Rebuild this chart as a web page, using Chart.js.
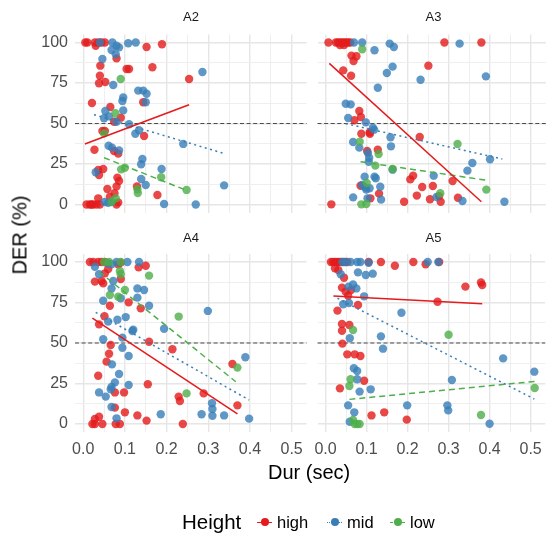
<!DOCTYPE html>
<html>
<head>
<meta charset="utf-8">
<script src="https://cdn.jsdelivr.net/npm/chart.js@4.4.1/dist/chart.umd.min.js"></script>
<style>
  html,body{margin:0;padding:0;background:#fff;}
  body{width:550px;height:534px;position:relative;overflow:hidden;font-family:"Liberation Sans",Arial,Helvetica,sans-serif;}
  canvas{position:absolute;left:0;top:0;}
  .strip{position:absolute;font-size:13px;color:#1A1A1A;text-align:center;width:232px;line-height:16px;}
  .axt{position:absolute;font-size:20px;color:#000;white-space:nowrap;line-height:24px;}
  #legend{position:absolute;top:508px;left:0;width:550px;height:28px;}
  .ltitle{position:absolute;left:182px;top:0;font-size:20.5px;line-height:28px;color:#000;}
  .litem{position:absolute;top:0;height:28px;display:flex;align-items:center;font-size:16.5px;color:#000;}
  .key{position:relative;width:17px;height:17px;margin-right:4px;}
  .key .ln{position:absolute;left:1px;right:1px;top:8px;border-top-width:1px;}
  .key .dt{position:absolute;left:4.5px;top:4.5px;width:8px;height:8px;border-radius:50%;}
</style>
</head>
<body>
<canvas id="cA2" width="550" height="534"></canvas>
<canvas id="cA3" width="550" height="534"></canvas>
<canvas id="cA4" width="550" height="534"></canvas>
<canvas id="cA5" width="550" height="534"></canvas>

<div class="strip" style="left:75px;top:9px;">A2</div>
<div class="strip" style="left:317.5px;top:9px;">A3</div>
<div class="strip" style="left:75px;top:230px;">A4</div>
<div class="strip" style="left:317.5px;top:230px;">A5</div>

<div class="axt" style="left:268px;top:460px;">Dur (sec)</div>
<div class="axt" style="left:-20px;top:223px;transform:rotate(-90deg);">DER (%)</div>

<div id="legend">
  <div class="ltitle">Height</div>
  <div class="litem" style="left:256px;"><div class="key"><div class="ln" style="border-top-style:solid;border-top-color:#E41A1C;"></div><div class="dt" style="background:#E41A1C;"></div></div>high</div>
  <div class="litem" style="left:326px;"><div class="key"><div class="ln" style="border-top-style:dotted;border-top-color:#377EB8;"></div><div class="dt" style="background:#377EB8;"></div></div>mid</div>
  <div class="litem" style="left:389px;"><div class="key"><div class="ln" style="border-top-style:dashed;border-top-color:#4DAF4A;"></div><div class="dt" style="background:#4DAF4A;"></div></div>low</div>
</div>

<script>
// ---------- axes ----------
const xMin = -0.0197, xMax = 0.5357;
const yMin = -5, yMax = 105;
const xMajor = [0, 0.1, 0.2, 0.3, 0.4, 0.5];
const xMinor = [0.05, 0.15, 0.25, 0.35, 0.45];
const xLabels = ['0.0', '0.1', '0.2', '0.3', '0.4', '0.5'];
const yMajor = [0, 25, 50, 75, 100];
const yMinor = [12.5, 37.5, 62.5, 87.5];
const yLabels = ['0', '25', '50', '75', '100'];
const refY = 50;

// ---------- data: [Dur (sec), DER (%)] ----------
const A2_high = [[0.005,100],[0.01,100],[0.028,100],[0.036,100],[0.044,100],[0.052,100],[0.03,98],[0.152,97.2],[0.189,98.9],[0.08,90.2],[0.041,85.7],[0.166,84.7],[0.104,83.6],[0.11,83.6],[0.04,79.5],[0.254,77.5],[0.038,74.8],[0.053,75.6],[0.144,63.1],[0.021,62.7],[0.065,60.2],[0.09,53.6],[0.074,51.1],[0.046,45.4],[0.052,45.4],[0.146,42.3],[0.027,33.8],[0.074,33.0],[0.084,31.4],[0.048,21.9],[0.036,21.3],[0.038,18.2],[0.082,16.6],[0.086,14.5],[0.08,11.2],[0.129,11.2],[0.058,9.6],[0.178,5.9],[0.075,6.9],[0.064,4.8],[0.036,3.8],[0.008,0],[0.016,0],[0.02,0],[0.024,0],[0.032,0],[0.04,0],[0.084,1.3],[0.08,0]];
const A2_mid = [[0.04,100],[0.07,100],[0.08,98],[0.086,97],[0.108,99.5],[0.126,100],[0.068,95.4],[0.078,92.7],[0.046,89.8],[0.286,81.8],[0.072,73.8],[0.132,70.3],[0.144,70.3],[0.152,68.4],[0.096,66.1],[0.094,63.9],[0.15,63.1],[0.053,57.7],[0.096,58.1],[0.062,54.4],[0.05,53.2],[0.08,51.1],[0.11,49.5],[0.125,43.7],[0.134,45.8],[0.24,37.4],[0.061,36.3],[0.069,35.1],[0.086,33.4],[0.142,28.1],[0.139,24.8],[0.188,21.9],[0.03,19.9],[0.139,15.7],[0.15,12.0],[0.338,11.8],[0.052,1.5],[0.06,1],[0.068,1.5],[0.194,0.3],[0.27,0]];
const A2_low = [[0.09,77.5],[0.077,56.3],[0.05,43.9],[0.091,21.7],[0.1,22.7],[0.187,16.8],[0.13,9.4],[0.131,7.1],[0.248,9.0],[0.068,1.7],[0.078,3.8]];

const A3_high = [[0.007,100],[0.025,100],[0.03,100],[0.035,100],[0.04,100],[0.045,100],[0.05,100],[0.055,100],[0.06,100],[0.035,98.5],[0.045,98.5],[0.289,100],[0.379,100],[0.063,91.9],[0.075,91.5],[0.068,88.6],[0.043,82.8],[0.062,79.5],[0.25,85.7],[0.082,57.7],[0.086,54],[0.07,52],[0.087,43.7],[0.107,44.5],[0.108,43.7],[0.229,41.7],[0.101,33],[0.127,33.8],[0.213,17.8],[0.206,15.5],[0.309,14.5],[0.261,11.4],[0.235,10.8],[0.085,11.6],[0.13,6.7],[0.222,5.5],[0.276,5.2],[0.254,3.2],[0.322,4.2],[0.28,1.7],[0.191,1.7],[0.109,3.8],[0.014,0.1]];
const A3_mid = [[0.069,100],[0.089,100],[0.119,95.2],[0.156,99.3],[0.166,97.2],[0.326,99.3],[0.163,85.1],[0.149,81.2],[0.231,77],[0.39,79.1],[0.127,72.1],[0.049,62.2],[0.061,61.8],[0.055,53.4],[0.098,50.7],[0.115,47.4],[0.118,46.2],[0.158,41.5],[0.159,35.9],[0.067,38.6],[0.082,35.1],[0.103,31.8],[0.106,28.9],[0.105,26.4],[0.4,27.9],[0.357,25.6],[0.345,20.9],[0.163,21.5],[0.095,17.2],[0.119,17.2],[0.122,16.2],[0.263,17.8],[0.133,11],[0.089,12],[0.097,10.4],[0.107,10],[0.099,9.2],[0.27,4.6],[0.333,2.2],[0.067,4.4],[0.102,3.8],[0.135,3],[0.435,1.7]];
const A3_low = [[0.089,95.8],[0.083,38.8],[0.321,37.4],[0.129,31.2],[0.121,24],[0.163,21.9],[0.1,13.3],[0.391,9.2],[0.279,6.9],[0.087,0.1],[0.099,0.3]];

const A4_high = [[0.016,100],[0.024,100],[0.036,100],[0.044,100],[0.052,100],[0.084,98.6],[0.09,99.6],[0.133,96.7],[0.15,97.7],[0.052,93],[0.06,95.7],[0.028,87.9],[0.044,88.3],[0.048,86.8],[0.09,89.5],[0.109,75.1],[0.064,73],[0.138,71.4],[0.051,66.5],[0.038,61.5],[0.158,50.8],[0.066,48.8],[0.214,46.1],[0.062,43.4],[0.056,38.5],[0.358,37],[0.036,29.8],[0.155,24.5],[0.076,19.5],[0.098,19.5],[0.289,18.9],[0.229,16.9],[0.232,14.2],[0.076,10.1],[0.37,11.5],[0.1,7.2],[0.13,5.3],[0.152,2.1],[0.239,0],[0.028,3.1],[0.038,4.5],[0.028,0],[0.046,0],[0.078,0],[0.088,0],[0.022,0]];
const A4_mid = [[0.028,97.1],[0.06,99.2],[0.068,98.6],[0.08,100],[0.106,100],[0.134,100],[0.038,92.4],[0.072,88.3],[0.068,83.7],[0.13,83.7],[0.146,82.7],[0.13,78],[0.09,77.6],[0.048,76.1],[0.158,73],[0.299,69.8],[0.102,66],[0.06,63.2],[0.082,64.4],[0.194,58.8],[0.118,57.4],[0.12,58.2],[0.048,52.3],[0.094,53.3],[0.094,47.1],[0.109,42],[0.069,36.8],[0.389,41.2],[0.086,30.9],[0.076,25.7],[0.109,24.1],[0.068,22.8],[0.066,21.4],[0.038,19.5],[0.054,16.9],[0.309,12.8],[0.31,9.3],[0.31,5.1],[0.068,10.5],[0.186,6],[0.284,6],[0.338,5.3],[0.398,3.3],[0.08,3.5]];
const A4_low = [[0.05,100],[0.062,100],[0.09,100],[0.158,91.6],[0.088,94.4],[0.09,92.4],[0.1,82.7],[0.064,79.6],[0.084,78.6],[0.229,66.3],[0.37,34.8],[0.248,18.9]];

const A5_high = [[0.013,100],[0.018,100],[0.023,100],[0.028,100],[0.033,100],[0.038,100],[0.045,100],[0.053,100],[0.105,100],[0.135,100],[0.169,97.7],[0.214,100],[0.244,98.6],[0.277,100],[0.023,96.1],[0.031,95],[0.045,90.3],[0.04,84.2],[0.049,81.7],[0.055,79.2],[0.062,82.7],[0.341,84.8],[0.379,87.4],[0.382,85.8],[0.079,73.5],[0.273,75.5],[0.029,70],[0.04,61.7],[0.058,61.1],[0.04,57.6],[0.041,49.6],[0.053,43],[0.071,43],[0.085,42],[0.094,26.7],[0.035,22],[0.112,5.3],[0.143,7.2],[0.198,2.7]];
const A5_mid = [[0.041,100],[0.049,100],[0.061,100],[0.077,100],[0.085,100],[0.105,99.5],[0.249,100],[0.275,100],[0.037,92.4],[0.079,93.6],[0.098,92],[0.115,92.8],[0.056,84.8],[0.067,86.2],[0.075,83.7],[0.094,78.8],[0.057,74.7],[0.043,73.9],[0.185,68.7],[0.135,54.1],[0.059,52.9],[0.14,46.5],[0.433,40.5],[0.069,34.4],[0.077,32.7],[0.509,32.3],[0.077,27.6],[0.308,27.2],[0.11,21.4],[0.083,20],[0.055,11.5],[0.297,11.5],[0.299,8.4],[0.199,11.5],[0.07,7.2],[0.4,0.2],[0.059,1.4]];
const A5_low = [[0.067,58],[0.3,55.1],[0.061,27.6],[0.058,23.5],[0.51,22.2],[0.379,5.6],[0.067,2.5],[0.071,0],[0.077,0],[0.083,0]];

// fitted lines (end points)
const A2_fit_high = [[0.004,37.3],[0.254,61.6]];
const A2_fit_mid  = [[0.026,55.4],[0.342,31.2]];
const A2_fit_low  = [[0.05,28.9],[0.248,8.7]];
const A3_fit_high = [[0.009,87.1],[0.379,1.7]];
const A3_fit_mid  = [[0.049,49.9],[0.43,28.1]];
const A3_fit_low  = [[0.085,26.4],[0.393,14.9]];
const A4_fit_high = [[0.022,65.4],[0.37,6.2]];
const A4_fit_mid  = [[0.03,68.9],[0.398,14.8]];
const A4_fit_low  = [[0.038,94],[0.366,26.1]];
const A5_fit_high = [[0.019,79],[0.382,74.3]];
const A5_fit_mid  = [[0.029,77.6],[0.509,15.4]];
const A5_fit_low  = [[0.058,15.2],[0.51,26.3]];

// ---------- styling ----------
const COL = {high:'#E41A1C', mid:'#377EB8', low:'#4DAF4A'};
const PT  = {high:'rgba(228,26,28,0.8)', mid:'rgba(55,126,184,0.8)', low:'rgba(77,175,74,0.8)'};
const DASH = {high:[], mid:[2,3.5], low:[6,4]};
const FONT = '"Liberation Sans", Arial, Helvetica, sans-serif';
const CW = 550, CH = 534;

const toXY = arr => arr.map(p => ({x:p[0], y:p[1]}));
const near = (v, list) => list.findIndex(m => Math.abs(m - v) < 1e-6);

const refLinePlugin = {
  id:'refLine',
  beforeDatasetsDraw(chart){
    const {ctx, chartArea:a, scales} = chart;
    const py = scales.y.getPixelForValue(refY);
    ctx.save();
    ctx.strokeStyle = '#3a3a3a';
    ctx.lineWidth = 0.9;
    ctx.setLineDash([4,2.6]);
    ctx.beginPath();
    ctx.moveTo(a.left, py);
    ctx.lineTo(a.right, py);
    ctx.stroke();
    ctx.restore();
  }
};

function makePanel(id, pts, fits, area, showX, showY){
  const yW = showY ? 40 : 0;
  const xH = showX ? 30 : 0;
  const groups = ['high','mid','low'];
  const datasets = [];
  groups.forEach((g) => {
    datasets.push({
      type:'line', data: toXY(fits[g]), borderColor: COL[g], borderWidth: 1.5,
      borderDash: DASH[g], pointRadius: 0, fill:false, showLine:true, order: 0
    });
  });
  groups.forEach((g, i) => {
    datasets.push({
      type:'scatter', data: toXY(pts[g]), backgroundColor: PT[g], borderWidth: 0,
      pointRadius: 4.2, pointHoverRadius: 4.2, order: 3 - i
    });
  });
  const gridCfg = (majors) => ({
    drawTicks:false,
    color: ctx => (ctx.tick && near(ctx.tick.value, majors) >= 0) ? '#E6E6E6' : '#EDEDED',
    lineWidth: ctx => (ctx.tick && near(ctx.tick.value, majors) >= 0) ? 1.4 : 0.9
  });
  return new Chart(document.getElementById(id), {
    data:{datasets},
    plugins:[refLinePlugin],
    options:{
      responsive:false, animation:false, events:[],
      layout:{padding:{left: area.left - yW, right: CW - area.right, top: area.top, bottom: CH - area.bottom - xH}},
      plugins:{legend:{display:false}, tooltip:{enabled:false}},
      scales:{
        x:{
          type:'linear', min:xMin, max:xMax,
          border:{display:false},
          grid: gridCfg(xMajor),
          afterBuildTicks: s => { s.ticks = xMajor.concat(xMinor).sort((a,b)=>a-b).map(v => ({value:v})); },
          afterFit: s => { s.height = xH; },
          ticks:{
            display: showX, autoSkip:false, maxRotation:0, minRotation:0, padding:8,
            color:'#4D4D4D', font:{family:FONT, size:16},
            callback: v => { const k = near(v, xMajor); return k >= 0 ? xLabels[k] : ''; }
          }
        },
        y:{
          type:'linear', min:yMin, max:yMax,
          border:{display:false},
          grid: gridCfg(yMajor),
          afterBuildTicks: s => { s.ticks = yMajor.concat(yMinor).sort((a,b)=>a-b).map(v => ({value:v})); },
          afterFit: s => { s.width = yW; },
          ticks:{
            display: showY, autoSkip:false, padding:7,
            color:'#4D4D4D', font:{family:FONT, size:16},
            callback: v => { const k = near(v, yMajor); return k >= 0 ? yLabels[k] : ''; }
          }
        }
      }
    }
  });
}

const TOP = {top:34.4, bottom:212.6};
const BOT = {top:253.9, bottom:432.1};
const LEFT = {left:75, right:306.5};
const RIGHT = {left:317.5, right:549};

makePanel('cA2', {high:A2_high, mid:A2_mid, low:A2_low}, {high:A2_fit_high, mid:A2_fit_mid, low:A2_fit_low}, {...LEFT, ...TOP}, false, true);
makePanel('cA3', {high:A3_high, mid:A3_mid, low:A3_low}, {high:A3_fit_high, mid:A3_fit_mid, low:A3_fit_low}, {...RIGHT, ...TOP}, false, false);
makePanel('cA4', {high:A4_high, mid:A4_mid, low:A4_low}, {high:A4_fit_high, mid:A4_fit_mid, low:A4_fit_low}, {...LEFT, ...BOT}, true, true);
makePanel('cA5', {high:A5_high, mid:A5_mid, low:A5_low}, {high:A5_fit_high, mid:A5_fit_mid, low:A5_fit_low}, {...RIGHT, ...BOT}, true, false);
</script>
</body>
</html>
